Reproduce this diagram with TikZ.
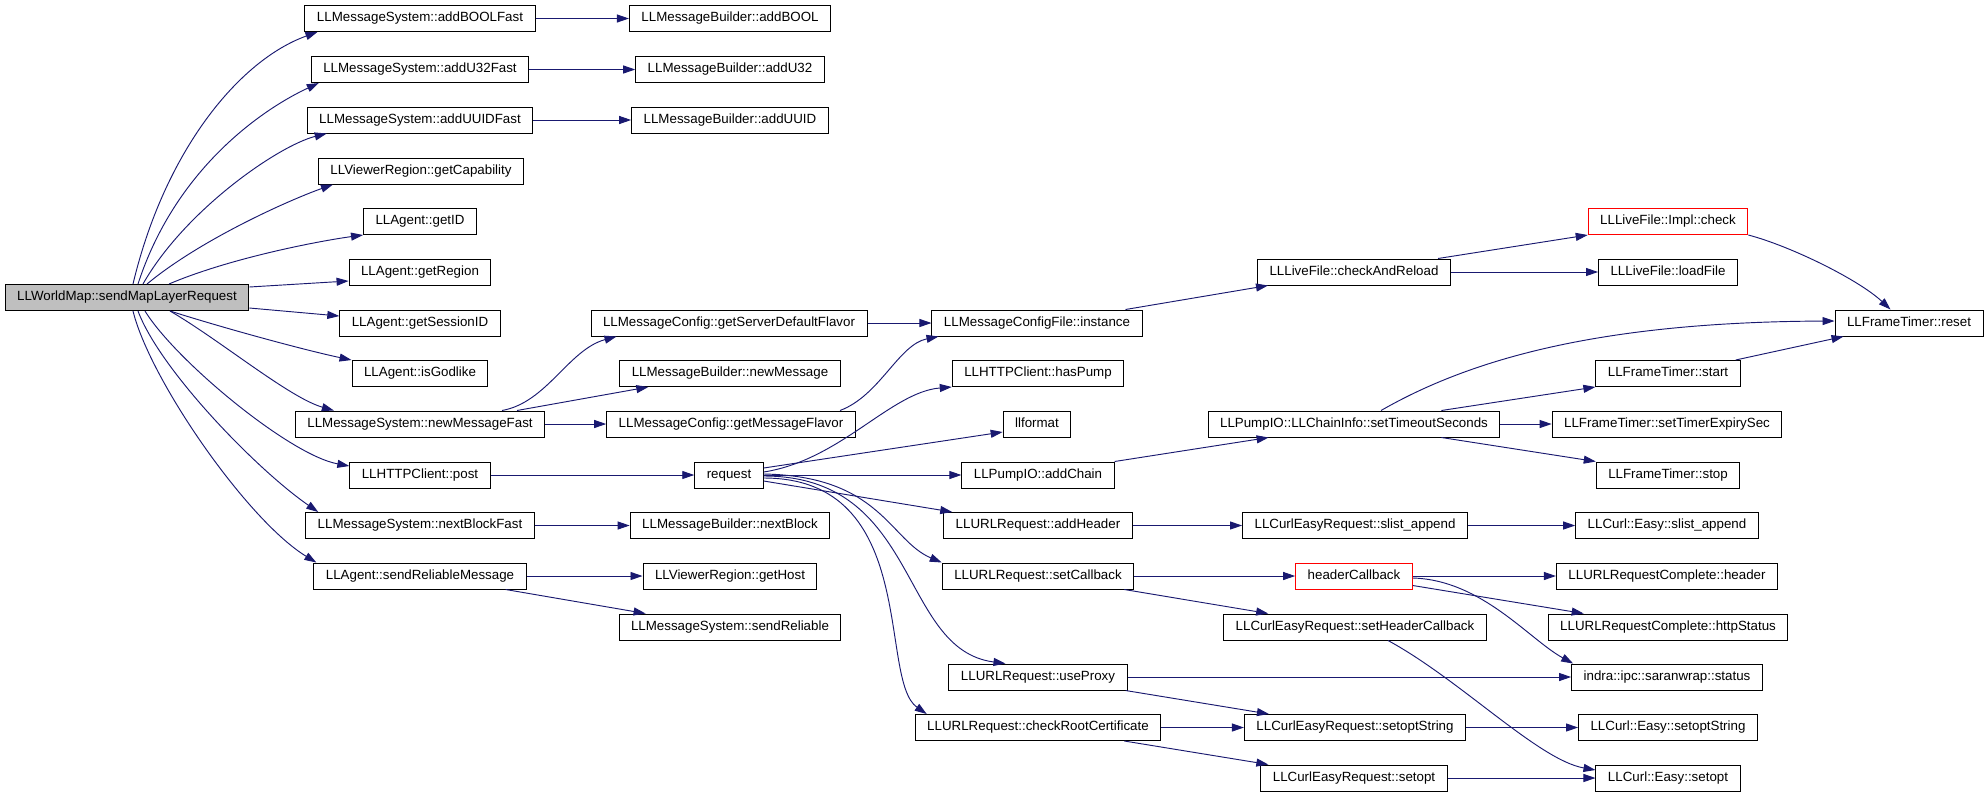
\documentclass[tikz,border=0pt]{standalone}
\usepackage{fontspec}
\setmainfont{Liberation Sans}
\usetikzlibrary{arrows.meta, calc}
\definecolor{edgeblue}{HTML}{191970}
\definecolor{rootgray}{HTML}{BFBFBF}
\tikzset{
    func/.style={
        rectangle,
        draw=black,
        line width=0.75pt,
        minimum height=19.5pt,
        inner xsep=9pt,
        inner ysep=0pt,
        text height=7.2pt,
        text depth=2.1pt,
        fill=white,
        font=\fontsize{10}{12}\selectfont
    },
    rootfunc/.style={
        func,
        fill=rootgray
    },
    redfunc/.style={
        func,
        draw=red
    },
    call/.style={
        draw=edgeblue,
        line width=0.7pt,
        -{Triangle[length=9pt,width=6pt]}
    }
}

\begin{document}
\begin{tikzpicture}[x=0.75pt, y=-0.75pt]

\fill[white] (0,0) rectangle (1987,797);
\useasboundingbox (0,0) rectangle (1987,797);

% caller
\node[rootfunc] (main) at (127,297.5) {LLWorldMap::sendMapLayerRequest};

% first level
\node[func] (addboolfast) at (420,18.5) {LLMessageSystem::addBOOLFast};
\node[func] (addu32fast) at (420,69.5) {LLMessageSystem::addU32Fast};
\node[func] (adduuidfast) at (420,120) {LLMessageSystem::addUUIDFast};
\node[func] (getcapability) at (421,171) {LLViewerRegion::getCapability};
\node[func] (getid) at (420,221.5) {LLAgent::getID};
\node[func] (getregion) at (420,272) {LLAgent::getRegion};
\node[func] (getsessionid) at (420,323) {LLAgent::getSessionID};
\node[func] (isgodlike) at (420,373.5) {LLAgent::isGodlike};
\node[func] (newmessagefast) at (420,424) {LLMessageSystem::newMessageFast};
\node[func] (post) at (420,475) {LLHTTPClient::post};
\node[func] (nextblockfast) at (420,525.5) {LLMessageSystem::nextBlockFast};
\node[func] (sendreliablemessage) at (420,576) {LLAgent::sendReliableMessage};

% second level
\node[func] (addbool) at (730,18.5) {LLMessageBuilder::addBOOL};
\node[func] (addu32) at (730,69.5) {LLMessageBuilder::addU32};
\node[func] (adduuid) at (730,120) {LLMessageBuilder::addUUID};
\node[func] (serverflavor) at (729,323) {LLMessageConfig::getServerDefaultFlavor};
\node[func] (newmessage) at (730,373.5) {LLMessageBuilder::newMessage};
\node[func] (messageflavor) at (731,424) {LLMessageConfig::getMessageFlavor};
\node[func] (request) at (729,475) {request};
\node[func] (nextblock) at (730,525.5) {LLMessageBuilder::nextBlock};
\node[func] (gethost) at (730,576) {LLViewerRegion::getHost};
\node[func] (sendreliable) at (730,627) {LLMessageSystem::sendReliable};

% third level
\node[func] (instance) at (1037,323) {LLMessageConfigFile::instance};
\node[func] (haspump) at (1038,373.5) {LLHTTPClient::hasPump};
\node[func] (llformat) at (1037,424) {llformat};
\node[func] (addchain) at (1038,475) {LLPumpIO::addChain};
\node[func] (addheader) at (1038,525.5) {LLURLRequest::addHeader};
\node[func] (setcallback) at (1038,576) {LLURLRequest::setCallback};
\node[func] (useproxy) at (1038,677) {LLURLRequest::useProxy};
\node[func] (checkroot) at (1038,727.5) {LLURLRequest::checkRootCertificate};

% fourth level
\node[func] (checkandreload) at (1354,272) {LLLiveFile::checkAndReload};
\node[func] (timeoutseconds) at (1354,424) {LLPumpIO::LLChainInfo::setTimeoutSeconds};
\node[func] (slistappend) at (1355,525.5) {LLCurlEasyRequest::slist\_append};
\node[redfunc] (headercallback) at (1354,576) {headerCallback};
\node[func] (setheadercallback) at (1355,627) {LLCurlEasyRequest::setHeaderCallback};
\node[func] (setoptstring) at (1355,727.5) {LLCurlEasyRequest::setoptString};
\node[func] (setopt) at (1354,778) {LLCurlEasyRequest::setopt};

% fifth level
\node[redfunc] (implcheck) at (1668,221.5) {LLLiveFile::Impl::check};
\node[func] (loadfile) at (1668,272) {LLLiveFile::loadFile};
\node[func] (start) at (1668,373.5) {LLFrameTimer::start};
\node[func] (expirysec) at (1667,424) {LLFrameTimer::setTimerExpirySec};
\node[func] (stop) at (1668,475) {LLFrameTimer::stop};
\node[func] (easyslistappend) at (1667,525.5) {LLCurl::Easy::slist\_append};
\node[func] (header) at (1667,576) {LLURLRequestComplete::header};
\node[func] (httpstatus) at (1668,627) {LLURLRequestComplete::httpStatus};
\node[func] (status) at (1667,677) {indra::ipc::saranwrap::status};
\node[func] (easysetoptstring) at (1668,727.5) {LLCurl::Easy::setoptString};
\node[func] (easysetopt) at (1668,778) {LLCurl::Easy::setopt};

% sixth level
\node[func] (reset) at (1909,323) {LLFrameTimer::reset};

% calls from the caller
\draw[call] ($(main.north)+(6,0)$) .. controls +(32,-134) and +(-78,28) .. ($(addboolfast.south west)+(13,0)$);
\draw[call] ($(main.north)+(11,0)$) .. controls +(37,-114) and +(-58,27) .. ($(addu32fast.south west)+(8,0)$);
\draw[call] ($(main.north)+(16,0)$) .. controls +(42,-74) and +(-48,12) .. ($(adduuidfast.south west)+(20,0)$);
\draw[call] ($(main.north)+(20,0)$) .. controls +(53,-44) and +(-45,16) .. ($(getcapability.south west)+(15,0)$);
\draw[call] ($(main.north)+(42,0)$) .. controls +(61,-26) and +(-44,6) .. (getid.south west);
\draw[call] ($(main.north east)+(0,3)$) -- ($(getregion.west)+(0,9)$);
\draw[call] ($(main.south east)+(0,-3)$) -- ($(getsessionid.west)+(0,-7)$);
\draw[call] ($(main.south)+(43,0)$) .. controls +(60,19) and +(-43,-9) .. (isgodlike.north west);
\draw[call] ($(main.south)+(43,0)$) .. controls +(50,29) and +(-45,-13) .. ($(newmessagefast.north west)+(39,0)$);
\draw[call] ($(main.south)+(18,0)$) .. controls +(30,49) and +(-60,-11) .. ($(post.west)+(0,-9)$);
\draw[call] ($(main.south)+(11,0)$) .. controls +(22,59) and +(-61,-42) .. ($(nextblockfast.north west)+(13,0)$);
\draw[call] ($(main.south)+(6,0)$) .. controls +(17,69) and +(-69,-42) .. ($(sendreliablemessage.north west)+(3,0)$);

% first level calls
\draw[call] (addboolfast.east) -- (addbool.west);
\draw[call] (addu32fast.east) -- (addu32.west);
\draw[call] (adduuidfast.east) -- (adduuid.west);
\draw[call] ($(newmessagefast.north)+(82,0)$) .. controls +(45,-8) and +(-48,13) .. ($(serverflavor.south west)+(26,0)$);
\draw[call] ($(newmessagefast.north)+(97,0)$) -- ($(newmessage.south west)+(29,0)$);
\draw[call] (newmessagefast.east) -- (messageflavor.west);
\draw[call] (post.east) -- (request.west);
\draw[call] (nextblockfast.east) -- (nextblock.west);
\draw[call] (sendreliablemessage.east) -- (gethost.west);
\draw[call] ($(sendreliablemessage.south east)+(-21,0)$) -- ($(sendreliable.north west)+(27,0)$);

% second level calls
\draw[call] (serverflavor.east) -- (instance.west);
\draw[call] ($(messageflavor.north)+(109,0)$) .. controls +(40,-15) and +(-40,8) .. ($(instance.south west)+(7,0)$);
\draw[call] ($(request.east)+(0,-3)$) .. controls +(77,-12) and +(-61,5) .. (haspump.south west);
\draw[call] ($(request.east)+(0,-7)$) -- ($(llformat.west)+(0,8)$);
\draw[call] (request.east) -- (addchain.west);
\draw[call] ($(request.east)+(0,6)$) -- ($(addheader.north west)+(9,0)$);
\draw[call] ($(request.east)+(0,-1)$) .. controls +(117,2) and +(-52,-22) .. (setcallback.north west);
\draw[call] ($(request.east)+(0,1)$) .. controls +(157,0) and +(-107,-14) .. ($(useproxy.north west)+(57,0)$);
\draw[call] ($(request.east)+(0,3)$) .. controls +(157,0) and +(-49,-34) .. ($(checkroot.north west)+(12,0)$);

% third level calls
\draw[call] ($(instance.north east)+(-17,0)$) -- ($(checkandreload.south west)+(11,0)$);
\draw[call] (addchain.north east) -- ($(timeoutseconds.south west)+(61,0)$);
\draw[call] (addheader.east) -- (slistappend.west);
\draw[call] (setcallback.east) -- (headercallback.west);
\draw[call] ($(setcallback.south east)+(-10,0)$) -- ($(setheadercallback.north west)+(45,0)$);
\draw[call] (useproxy.east) -- (status.west);
\draw[call] ($(useproxy.south east)+(-2,0)$) -- ($(setoptstring.north west)+(25,0)$);
\draw[call] (checkroot.east) -- (setoptstring.west);
\draw[call] ($(checkroot.south east)+(-37,0)$) -- ($(setopt.north west)+(8,0)$);

% fourth level calls
\draw[call] ($(checkandreload.north east)+(-13,0)$) -- (implcheck.south west);
\draw[call] (checkandreload.east) -- (loadfile.west);
\draw[call] ($(timeoutseconds.north)+(27,0)$) .. controls +(89,-51) and +(-236,1) .. ($(reset.west)+(0,-2)$);
\draw[call] ($(timeoutseconds.north east)+(-59,0)$) -- (start.south west);
\draw[call] (timeoutseconds.east) -- (expirysec.west);
\draw[call] ($(timeoutseconds.south east)+(-59,0)$) -- (stop.north west);
\draw[call] (slistappend.east) -- (easyslistappend.west);
\draw[call] (headercallback.east) -- (header.west);
\draw[call] ($(headercallback.south east)+(0,-4)$) -- ($(httpstatus.north west)+(36,0)$);
\draw[call] ($(headercallback.east)+(0,2)$) .. controls +(69,2) and +(-44,-24) .. ($(status.north west)+(2,0)$);
\draw[call] ($(setheadercallback.south)+(33,0)$) .. controls +(72,39) and +(-57,-10) .. ($(easysetopt.west)+(0,-8)$);
\draw[call] (setoptstring.east) -- (easysetoptstring.west);
\draw[call] (setopt.east) -- (easysetopt.west);

% fifth level calls
\draw[call] (implcheck.south east) .. controls +(42,11) and +(-32,-30) .. ($(reset.north west)+(56,0)$);
\draw[call] ($(start.north east)+(-5,0)$) -- ($(reset.south west)+(9,0)$);

\end{tikzpicture}
\end{document}
